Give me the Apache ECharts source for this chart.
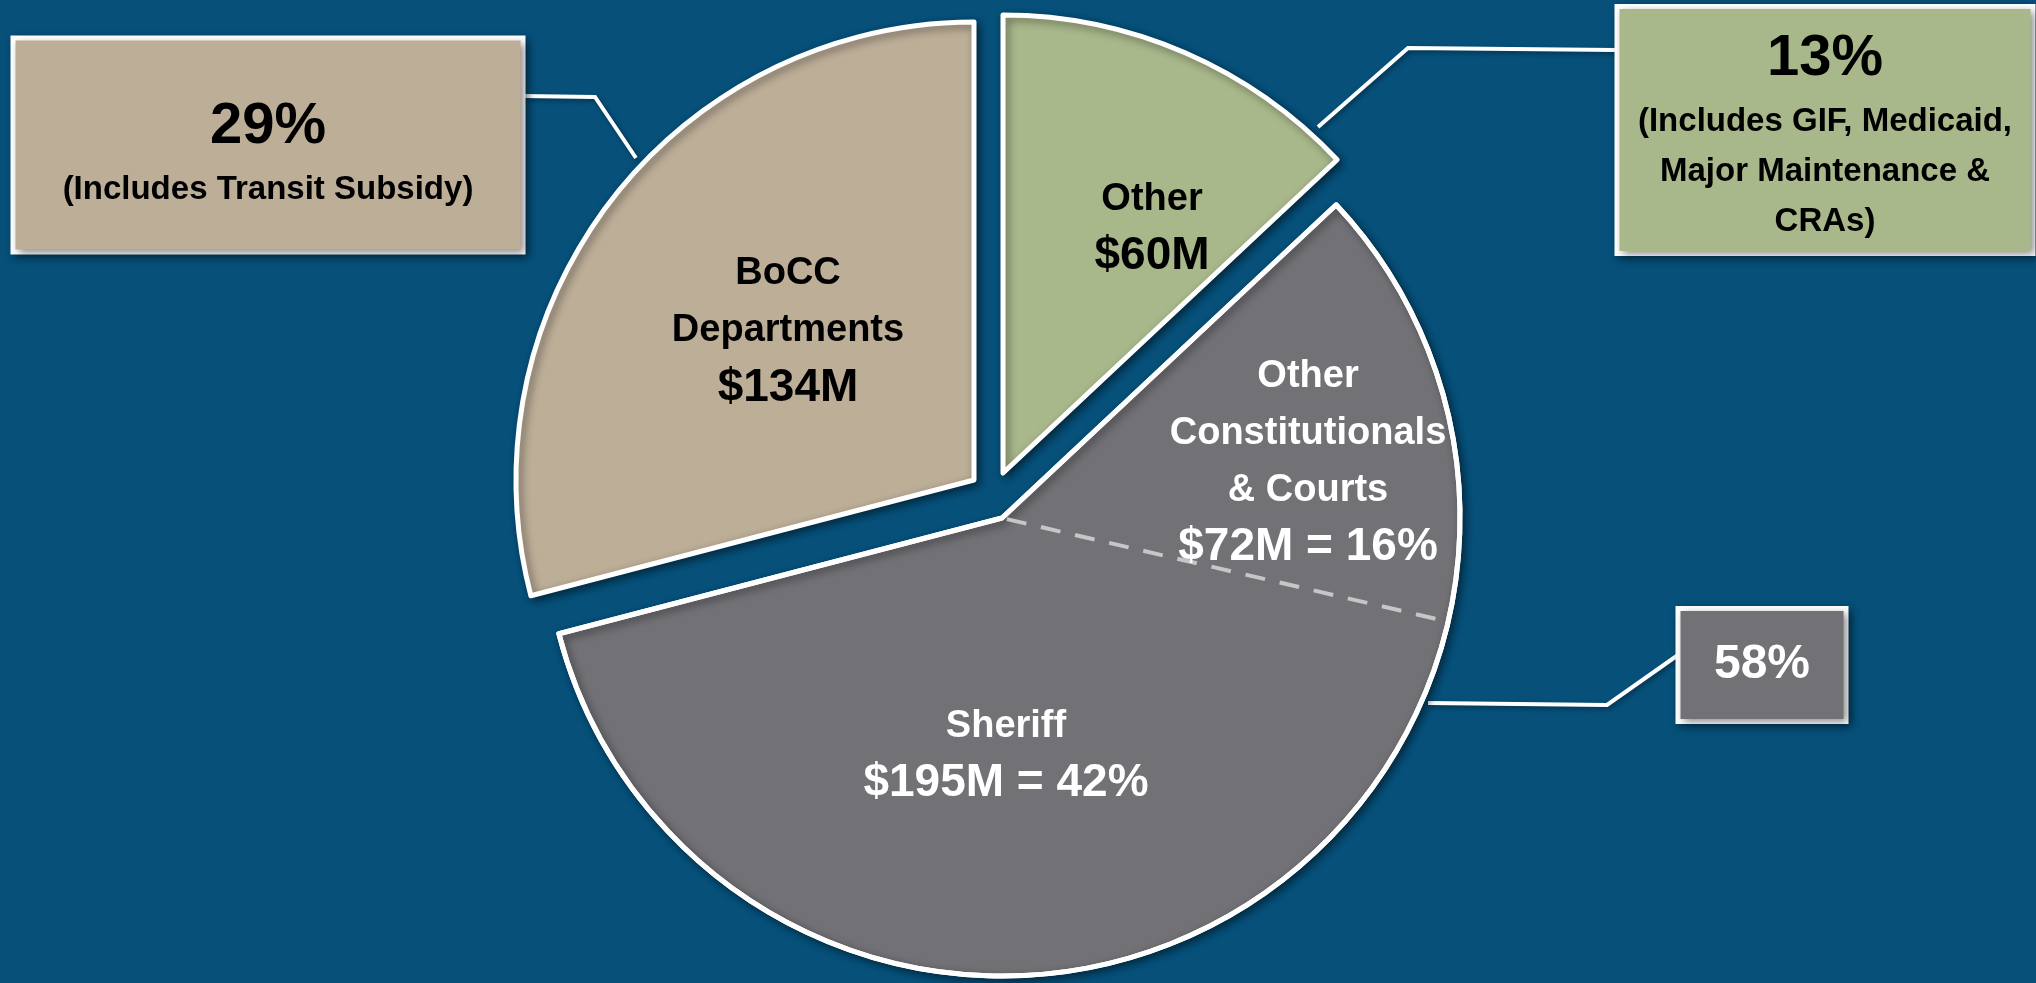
<!DOCTYPE html>
<html><head><meta charset="utf-8">
<script src="https://cdn.jsdelivr.net/npm/echarts@6/dist/echarts.min.js"></script>
<style>html,body{margin:0;padding:0;background:#06507a;}#c{width:2036px;height:983px;}</style>
</head><body><div id="c"></div>
<script>
// ---------------- data ----------------
const categories = ['Other', 'Other Constitutionals & Courts', 'Sheriff', 'BoCC Departments'];
const values = [60, 72, 195, 134];               // $M
const labelNames = ['Other', 'Other\nConstitutionals\n& Courts', 'Sheriff', 'BoCC\nDepartments'];
const calloutNotes = ['(Includes GIF, Medicaid,\nMajor Maintenance &\nCRAs)', '', '', '(Includes Transit Subsidy)'];
const groupMembers = [1, 2];                      // Sheriff + Other Constitutionals & Courts
const groupName = 'Constitutionals & Courts (total)';

// ---------------- style / layout ----------------
const COLORS = ['#a9b88b', '#727176', '#727176', '#bdae98'];
const TEXT_COLORS = ['#000', '#fff', '#fff', '#000'];
const BG = '#06507a';
const FONT = "'Liberation Sans', Arial, sans-serif";
const R = 458;
const CENTER_BOCC = [974, 480], CENTER_OTHER = [1003, 473], CENTER_GROUP = [1002, 518];
const INSIDE_POS = {0: [1152, 228], 1: [1308, 462], 2: [1006, 755], 3: [788, 331]};
const CALLOUT = {
  3: {x: 268, y: 145, w: 505, pad: [48, 0, 35, 0], line: [[636, 158], [595, 97], [523, 96]]},
  0: {x: 1825, y: 130, w: 411, pad: [12, 0, 4, 0], line: [[1318, 127], [1408, 48], [1617, 50]]},
  g: {x: 1762, y: 665, w: 163, pad: [29, 0, 29, 0], line: [[1428, 703], [1607, 705], [1678, 655]]}
};

const total = values.reduce((a, b) => a + b, 0);
const pct = v => Math.round(v / total * 100);
const groupValue = groupMembers.reduce((a, i) => a + values[i], 0);

const SHADOW = {shadowBlur: 8, shadowColor: 'rgba(0,0,0,0.45)', shadowOffsetX: 3, shadowOffsetY: 3};
const HIDDEN = {color: 'rgba(0,0,0,0)', borderWidth: 0, shadowBlur: 0};

function richFor(color) {
  return {
    t: {fontFamily: FONT, fontWeight: 'bold', fontSize: 38, lineHeight: 57, color, align: 'center'},
    n: {fontFamily: FONT, fontWeight: 'bold', fontSize: 46, lineHeight: 57, color, align: 'center'}
  };
}
function insideText(i) {
  const lines = labelNames[i].split('\n').map(s => '{t|' + s + '}');
  lines.push('{n|$' + values[i] + 'M' + (groupMembers.includes(i) ? ' = ' + pct(values[i]) + '%' : '') + '}');
  return lines.join('\n');
}
function calloutRich(color) {
  return {
    p: {fontFamily: FONT, fontWeight: 'bold', fontSize: 58, lineHeight: 76, color, align: 'center'},
    s: {fontFamily: FONT, fontWeight: 'bold', fontSize: 33, lineHeight: 50, color, align: 'center'},
    q: {fontFamily: FONT, fontWeight: 'bold', fontSize: 48, lineHeight: 50, color, align: 'center'}
  };
}
function calloutText(p, note, big) {
  const head = '{' + (big ? 'p' : 'q') + '|' + p + '%}';
  if (!note) return head;
  return head + '\n' + note.split('\n').map(l => '{s|' + l + '}').join('\n');
}
function calloutLabel(key, color, bgColor, text) {
  const c = CALLOUT[key];
  return {
    show: true, position: 'outside', formatter: text,
    width: c.w, overflow: 'none', padding: c.pad, backgroundColor: bgColor,
    borderColor: '#fff', borderWidth: 5,
    shadowBlur: 8, shadowColor: 'rgba(0,0,0,0.45)', shadowOffsetX: 3, shadowOffsetY: 3,
    rich: calloutRich(color)
  };
}
const CALLOUT_LINE = {show: true, lineStyle: {color: '#fff', width: 4, shadowBlur: 5, shadowColor: 'rgba(0,0,0,0.4)', shadowOffsetX: 2, shadowOffsetY: 2}};

function pieBase(center, data, extra) {
  return Object.assign({
    type: 'pie', center: center, radius: [0, R], startAngle: 90, clockwise: true,
    avoidLabelOverlap: false, silent: true, animation: false,
    emphasis: {disabled: true}, label: {show: false}, labelLine: {show: false},
    data: data
  }, extra || {});
}
const insideLayout = p => ({x: INSIDE_POS[p.dataIndex][0], y: INSIDE_POS[p.dataIndex][1], align: 'center', verticalAlign: 'middle'});

function sliceFill(idx, center) {
  return pieBase(center, categories.map((n, i) => i === idx ? {
    name: n, value: values[i],
    itemStyle: Object.assign({color: COLORS[i], borderColor: '#fff', borderWidth: 5}, SHADOW),
    label: {show: true, position: 'inside', overflow: 'none', formatter: insideText(i), rich: richFor(TEXT_COLORS[i])}
  } : {name: n, value: values[i], itemStyle: HIDDEN}), {labelLayout: insideLayout});
}
function sliceCallout(idx, center) {
  const c = CALLOUT[idx];
  return pieBase(center, categories.map((n, i) => i === idx ? {
    name: n, value: values[i], itemStyle: HIDDEN,
    label: calloutLabel(idx, TEXT_COLORS[i], COLORS[i], calloutText(pct(values[i]), calloutNotes[i], true)),
    labelLine: CALLOUT_LINE
  } : {name: n, value: values[i], itemStyle: HIDDEN}), {
    labelLayout: () => ({x: c.x, y: c.y, align: 'center', verticalAlign: 'middle', labelLinePoints: c.line})
  });
}
function groupData(groupItem) {
  const out = [];
  categories.forEach((n, i) => {
    if (groupMembers.includes(i)) {
      if (i === groupMembers[0]) out.push(Object.assign({name: groupName, value: groupValue}, groupItem));
    } else out.push({name: n, value: values[i], itemStyle: HIDDEN});
  });
  return out;
}

const series = [
  sliceFill(3, CENTER_BOCC),
  sliceFill(0, CENTER_OTHER),
  pieBase(CENTER_GROUP, groupData({itemStyle: Object.assign({color: COLORS[1], borderColor: '#fff', borderWidth: 5}, SHADOW)})),
  pieBase(CENTER_GROUP, categories.map((n, i) => {
    const item = {name: n, value: values[i], itemStyle: HIDDEN};
    if (groupMembers.includes(i)) {
      item.label = {show: true, position: 'inside', overflow: 'none', formatter: insideText(i), rich: richFor(TEXT_COLORS[i])};
      if (i === groupMembers[1]) item.itemStyle = {color: 'rgba(0,0,0,0)', borderColor: '#c6c6c8', borderWidth: 4, borderType: [20, 15]};
    }
    return item;
  }), {labelLayout: insideLayout}),
  pieBase(CENTER_GROUP, groupData({
    itemStyle: {color: 'rgba(0,0,0,0)', borderColor: '#fff', borderWidth: 5},
    label: calloutLabel('g', '#fff', COLORS[1], calloutText(pct(groupValue), '', false)),
    labelLine: CALLOUT_LINE
  }), {labelLayout: () => ({x: CALLOUT.g.x, y: CALLOUT.g.y, align: 'center', verticalAlign: 'middle', labelLinePoints: CALLOUT.g.line})}),
  sliceCallout(3, CENTER_BOCC),
  sliceCallout(0, CENTER_OTHER)
];

const chart = echarts.init(document.getElementById('c'), null, {renderer: 'canvas'});
chart.setOption({backgroundColor: BG, animation: false, series: series});
</script>
</body></html>
